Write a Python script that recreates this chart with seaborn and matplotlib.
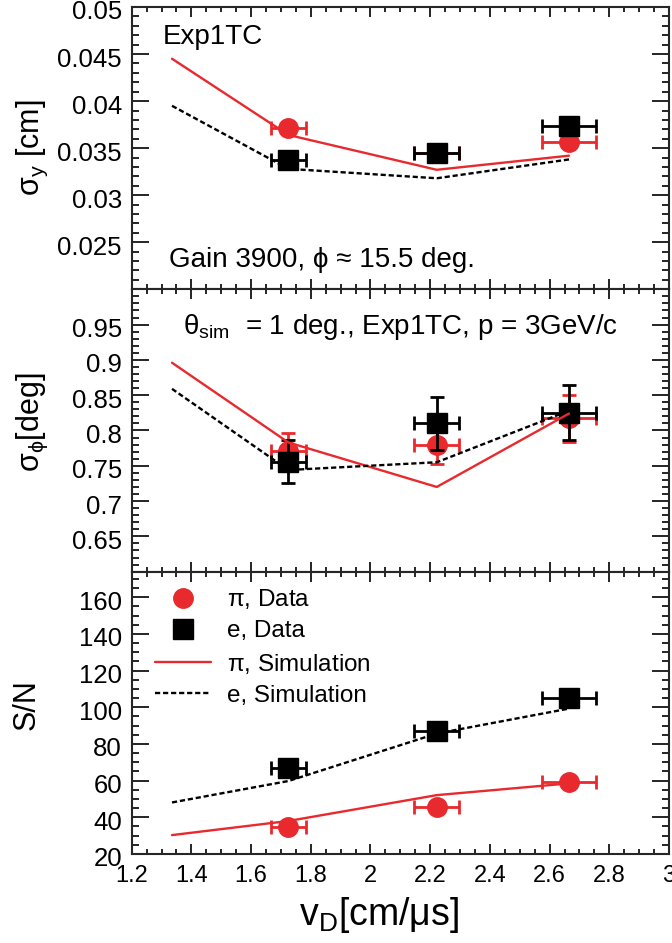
import numpy as np
import pandas as pd
import seaborn as sns
import matplotlib.pyplot as plt
import matplotlib.transforms as mtransforms
from matplotlib.lines import Line2D
from matplotlib.ticker import MultipleLocator, FuncFormatter

sns.set_theme(style="ticks")
plt.rcParams['font.family'] = ['Liberation Sans', 'DejaVu Sans']
plt.rcParams['mathtext.fontset'] = 'custom'
plt.rcParams['mathtext.rm'] = 'Liberation Sans'
plt.rcParams['mathtext.it'] = 'Liberation Sans'
plt.rcParams['mathtext.default'] = 'regular'
plt.rcParams['text.color'] = 'black'
plt.rcParams['axes.labelcolor'] = 'black'

# drift velocity [cm/us]
vd_sim = [1.335, 1.725, 2.222, 2.665]
vd_data = [1.725, 2.222, 2.665]
vd_err = [0.06, 0.075, 0.09]

# sigma_y [cm]
sigy_pi_sim = [0.0445, 0.0364, 0.0327, 0.0342]
sigy_e_sim = [0.0395, 0.0328, 0.0318, 0.0338]
sigy_pi = [0.0371, 0.0345, 0.0357]
sigy_e = [0.0337, 0.0345, 0.0373]

# sigma_phi [deg]
sigphi_pi_sim = [0.896, 0.783, 0.720, 0.824]
sigphi_e_sim = [0.859, 0.744, 0.755, 0.828]
sigphi_pi = [0.771, 0.780, 0.817]
sigphi_pi_err = [0.026, 0.027, 0.033]
sigphi_e = [0.756, 0.810, 0.825]
sigphi_e_err = [0.031, 0.038, 0.039]

# S/N
sn_pi_sim = [30.3, 38.0, 52.1, 58.5]
sn_e_sim = [48.1, 59.8, 85.7, 99.3]
sn_pi = [34.9, 45.8, 59.0]
sn_e = [67.0, 87.2, 105.1]

RED = '#e8292e'
DASH = (0, (2.2, 1.2))

fig, axs = plt.subplots(3, 1, figsize=(6.72, 9.43), dpi=100, sharex=True)
plt.subplots_adjust(left=0.196, right=0.9955, top=0.9926, bottom=0.0944, hspace=0)

panels = [
    (sigy_pi_sim, sigy_e_sim, sigy_pi, [0]*3, sigy_e, [0]*3),
    (sigphi_pi_sim, sigphi_e_sim, sigphi_pi, sigphi_pi_err, sigphi_e, sigphi_e_err),
    (sn_pi_sim, sn_e_sim, sn_pi, [0]*3, sn_e, [0]*3),
]

fmt = FuncFormatter(lambda v, p: '%g' % round(v, 6))

for ax, (pisim, esim, pid, pierr, ed, eerr) in zip(axs, panels):
    ax.errorbar(vd_data, pid, xerr=vd_err, yerr=pierr, fmt='o', color=RED,
                ms=14, elinewidth=2, capsize=5, capthick=2, zorder=2)
    ax.errorbar(vd_data, ed, xerr=vd_err, yerr=eerr, fmt='s', color='black',
                ms=14, elinewidth=2, capsize=5, capthick=2, zorder=3)
    sim = pd.DataFrame({'vd': vd_sim, 'pi': pisim, 'e': esim})
    sns.lineplot(data=sim, x='vd', y='pi', ax=ax, color=RED, lw=1.7, zorder=4)
    sns.lineplot(data=sim, x='vd', y='e', ax=ax, color='black', lw=1.7,
                 linestyle=DASH, zorder=4)
    ax.set_xlabel('')
    for s in ax.spines.values():
        s.set_linewidth(1.5)
        s.set_visible(True)
    ax.tick_params(which='both', direction='in', top=True, right=True,
                   width=1.2, colors='black')
    ax.tick_params(axis='y', which='major', length=12, pad=7, labelsize=18.5)
    ax.tick_params(axis='y', which='minor', length=5)
    ax.tick_params(axis='x', which='major', length=7, pad=8, labelsize=17)
    ax.tick_params(axis='x', which='minor', length=3.5)
    ax.yaxis.set_major_formatter(fmt)

axs[2].xaxis.set_major_locator(MultipleLocator(0.2))
axs[2].xaxis.set_minor_locator(MultipleLocator(0.05))
axs[2].xaxis.set_major_formatter(fmt)
axs[2].set_xlim(1.2, 3.0)

axs[0].set_ylim(0.02, 0.05)
axs[0].yaxis.set_minor_locator(MultipleLocator(0.001))
axs[0].set_yticks([0.025, 0.03, 0.035, 0.04, 0.045, 0.05])

axs[1].set_ylim(0.6, 1.0)
axs[1].yaxis.set_minor_locator(MultipleLocator(0.01))
axs[1].set_yticks([0.65, 0.7, 0.75, 0.8, 0.85, 0.9, 0.95])

axs[2].set_ylim(20, 174)
axs[2].yaxis.set_minor_locator(MultipleLocator(5))
axs[2].set_yticks([20, 40, 60, 80, 100, 120, 140, 160])

# tick labels sit a little below their ticks, as in the original
shift = mtransforms.ScaledTranslation(0, -3 / 100, fig.dpi_scale_trans)
for ax in axs:
    for lab in ax.get_yticklabels():
        lab.set_transform(lab.get_transform() + shift)

axs[0].set_ylabel(r'$\sigma_{y}$ [cm]', fontsize=22, va='center')
axs[1].set_ylabel(r'$\sigma_{\phi}$[deg]', fontsize=22, va='center')
axs[2].set_ylabel('S/N', fontsize=22, va='center')
axs[0].yaxis.set_label_coords(-0.185, 0.5)
axs[1].yaxis.set_label_coords(-0.185, 0.53)
axs[2].yaxis.set_label_coords(-0.196, 0.53)
axs[2].set_xlabel(r'$v_{D}$[cm/$\mu$s]', fontsize=27, labelpad=6)
axs[2].xaxis.set_label_coords(0.46, -0.145)

axs[0].text(0.058, 0.894, 'Exp1TC', transform=axs[0].transAxes, fontsize=20, va='center')
axs[0].text(0.07, 0.103, 'Gain 3900, \u03d5 \u2248 15.5 deg.', transform=axs[0].transAxes,
            fontsize=20, va='center')
axs[1].text(0.5, 0.866, r'$\theta_{sim}$  = 1 deg., Exp1TC, p = 3GeV/c',
            transform=axs[1].transAxes, fontsize=20, ha='center', va='center')

handles = [
    Line2D([], [], marker='o', color=RED, ls='none', ms=14),
    Line2D([], [], marker='s', color='black', ls='none', ms=14),
    Line2D([], [], color=RED, lw=1.7),
    Line2D([], [], color='black', lw=1.7, ls=DASH),
]
labels = [r'$\pi$, Data', 'e, Data', r'$\pi$, Simulation', 'e, Simulation']
axs[2].legend(handles, labels, loc='upper left', bbox_to_anchor=(0.043, 0.945),
              frameon=False, fontsize=17.5, handlelength=2.3, handletextpad=0.66,
              labelspacing=0.38, borderpad=0, borderaxespad=0)

plt.savefig('out.png', dpi=100)
